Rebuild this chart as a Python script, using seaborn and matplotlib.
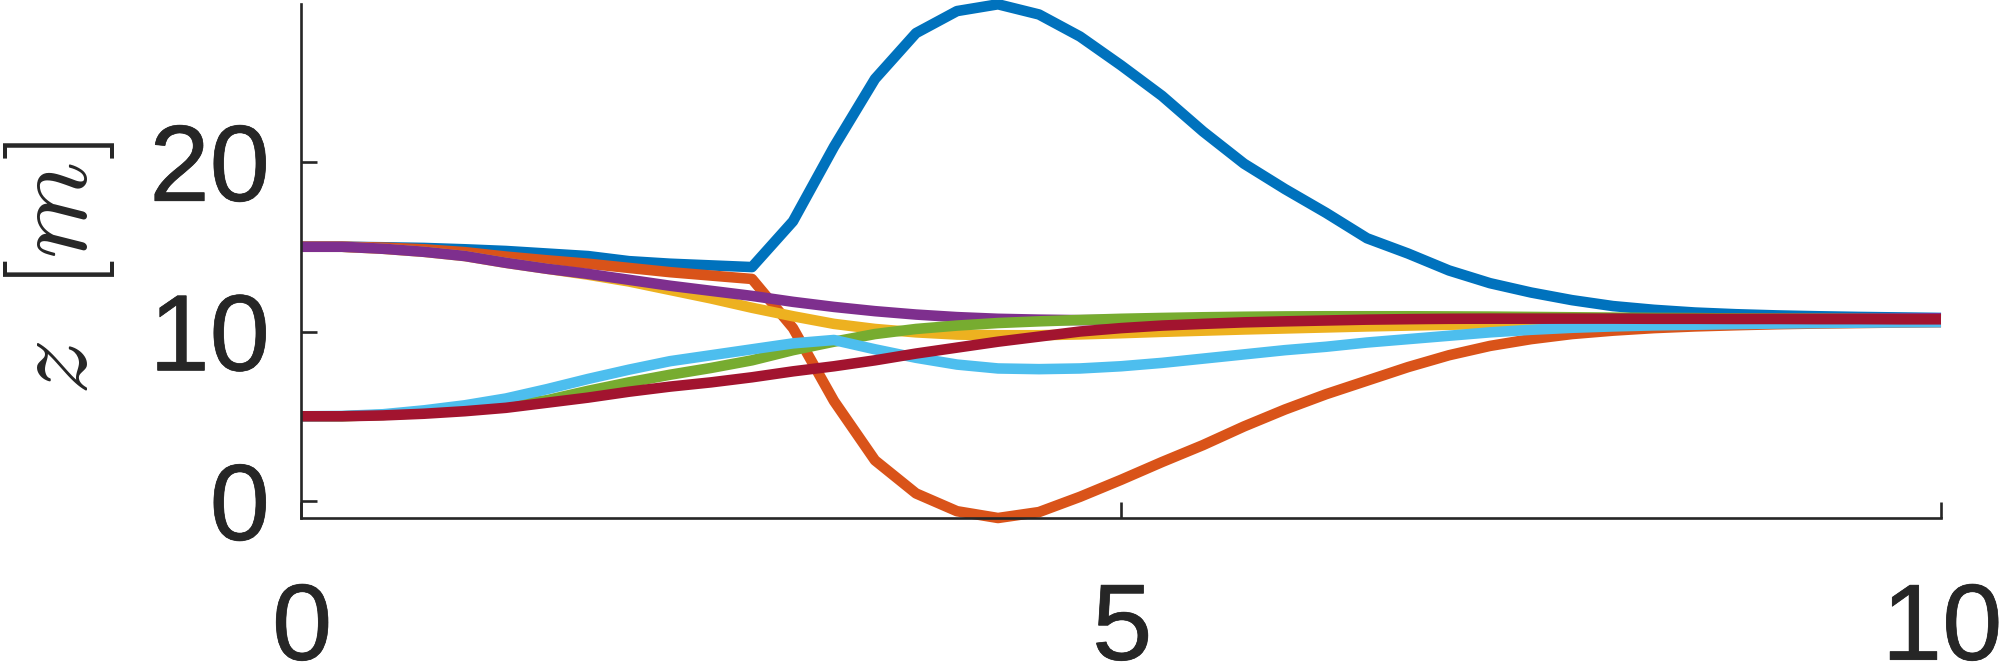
import numpy as np
import pandas as pd
import matplotlib
matplotlib.use("Agg")
import matplotlib.pyplot as plt
import matplotlib.patheffects as pe
import seaborn as sns

# time axis
t = np.linspace(0, 10, 41)

series_names = ["s1", "s2", "s3", "s4", "s5", "s6", "s7"]
colors = ["#0072BD", "#D95319", "#EDB120", "#7E2F8E", "#77AC30", "#4DBEEE", "#A2142F"]

s1 = [15.0, 15.0, 14.97, 14.93, 14.85, 14.75, 14.6, 14.45, 14.15, 14.0, 13.9, 13.8,
      16.5, 20.9, 24.9, 27.6, 28.9, 29.3, 28.7, 27.4, 25.7, 23.9, 21.8, 19.9, 18.4,
      17.0, 15.5, 14.6, 13.6, 12.85, 12.3, 11.85, 11.5, 11.28, 11.12, 11.02, 10.95,
      10.9, 10.86, 10.83, 10.8]
s2 = [15.0, 15.0, 14.95, 14.85, 14.68, 14.42, 14.2, 14.0, 13.75, 13.5, 13.3, 13.1,
      10.2, 5.9, 2.4, 0.45, -0.6, -1.0, -0.65, 0.25, 1.25, 2.3, 3.3, 4.4, 5.4, 6.3,
      7.1, 7.9, 8.6, 9.15, 9.55, 9.85, 10.05, 10.2, 10.3, 10.37, 10.43, 10.47, 10.5,
      10.53, 10.55]
s3 = [15.0, 15.0, 14.88, 14.7, 14.45, 14.05, 13.7, 13.35, 12.95, 12.45, 11.95, 11.4,
      10.9, 10.45, 10.15, 9.95, 9.82, 9.78, 9.78, 9.83, 9.9, 9.98, 10.05, 10.12, 10.18,
      10.24, 10.3, 10.35, 10.4, 10.44, 10.47, 10.5, 10.52, 10.54, 10.55, 10.56, 10.57,
      10.58, 10.59, 10.6, 10.6]
s4 = [15.0, 15.0, 14.88, 14.7, 14.45, 14.05, 13.7, 13.4, 13.05, 12.7, 12.4, 12.1,
      11.75, 11.45, 11.2, 11.0, 10.85, 10.75, 10.7, 10.67, 10.68, 10.7, 10.71, 10.72,
      10.73, 10.74, 10.75, 10.75, 10.76, 10.76, 10.77, 10.77, 10.77, 10.78, 10.78,
      10.78, 10.78, 10.78, 10.78, 10.78, 10.78]
s5 = [5.0, 5.0, 5.08, 5.2, 5.38, 5.6, 5.95, 6.5, 7.0, 7.45, 7.85, 8.3, 8.9, 9.4, 9.85,
      10.15, 10.35, 10.5, 10.6, 10.68, 10.75, 10.8, 10.84, 10.87, 10.89, 10.9, 10.9,
      10.9, 10.89, 10.88, 10.86, 10.84, 10.82, 10.8, 10.79, 10.77, 10.76, 10.75, 10.74,
      10.73, 10.72]
s6 = [5.0, 5.02, 5.12, 5.35, 5.65, 6.05, 6.6, 7.2, 7.75, 8.25, 8.6, 8.95, 9.3, 9.5,
      8.95, 8.45, 8.05, 7.82, 7.78, 7.82, 7.95, 8.15, 8.4, 8.65, 8.9, 9.1, 9.35, 9.55,
      9.75, 9.95, 10.1, 10.22, 10.3, 10.36, 10.4, 10.44, 10.47, 10.5, 10.52, 10.54, 10.55]
s7 = [5.0, 5.0, 5.05, 5.15, 5.3, 5.5, 5.8, 6.1, 6.45, 6.75, 7.0, 7.3, 7.65, 7.95, 8.3,
      8.7, 9.05, 9.4, 9.7, 10.0, 10.2, 10.35, 10.45, 10.54, 10.6, 10.65, 10.7, 10.73,
      10.75, 10.76, 10.76, 10.76, 10.76, 10.75, 10.75, 10.74, 10.74, 10.73, 10.73,
      10.72, 10.72]

x_ticks = [0, 5, 10]
y_ticks = [0, 10, 20]
y_label = r"$z\;\;[m]$"

all_series = [s1, s2, s3, s4, s5, s6, s7]
df = pd.concat(
    [pd.DataFrame({"t": t, "z": vals, "series": name}) for name, vals in zip(series_names, all_series)],
    ignore_index=True,
)

sns.set_style("ticks")
plt.rcParams["font.family"] = ["Liberation Sans", "DejaVu Sans"]
plt.rcParams["mathtext.fontset"] = "custom"
plt.rcParams["mathtext.rm"] = "Liberation Sans"
plt.rcParams["mathtext.it"] = "Liberation Sans:italic"
plt.rcParams["mathtext.bf"] = "Liberation Sans:bold"

fig = plt.figure(figsize=(20, 6.69), dpi=100)
ax = fig.add_axes([301 / 2000, 1 - 518 / 669, 1640 / 2000, (518 - 4.3) / 669])

sns.lineplot(data=df, x="t", y="z", hue="series", hue_order=series_names,
             palette=colors, estimator=None, sort=False, linewidth=7.6,
             legend=False, ax=ax)
for ln in ax.get_lines():
    ln.set_clip_on(False)
    ln.set_solid_joinstyle("round")
    ln.set_solid_capstyle("butt")

ax.set_xlim(0, 10)
ymin = min(min(s) for s in all_series)
ymax = max(max(s) for s in all_series)
ax.set_ylim(ymin, ymax)
ax.set_xticks(x_ticks)
ax.set_yticks(y_ticks)
ax.set_xticklabels([r"$\mathregular{%d}$" % v for v in x_ticks])
ax.set_yticklabels([r"$\mathregular{%d}$" % v for v in y_ticks])

for side in ["top", "right"]:
    ax.spines[side].set_visible(False)
for side in ["left", "bottom"]:
    ax.spines[side].set_color("#262626")
    ax.spines[side].set_linewidth(1.9)

ax.tick_params(axis="both", direction="in", length=11.5, width=1.9,
               colors="#262626", labelsize=78)
ax.tick_params(axis="x", pad=46)
ax.tick_params(axis="y", pad=24)

stroke = [pe.withStroke(linewidth=0.5, foreground="#262626")]
for lab in ax.get_xticklabels() + ax.get_yticklabels():
    lab.set_path_effects(stroke)

ax.set_xlabel("")
ax.set_ylabel(y_label, fontsize=80, color="#262626", math_fontfamily="cm")
ax.yaxis.set_label_coords(-0.112, 0.487)

fig.savefig("out.png", dpi=100, facecolor="white")
